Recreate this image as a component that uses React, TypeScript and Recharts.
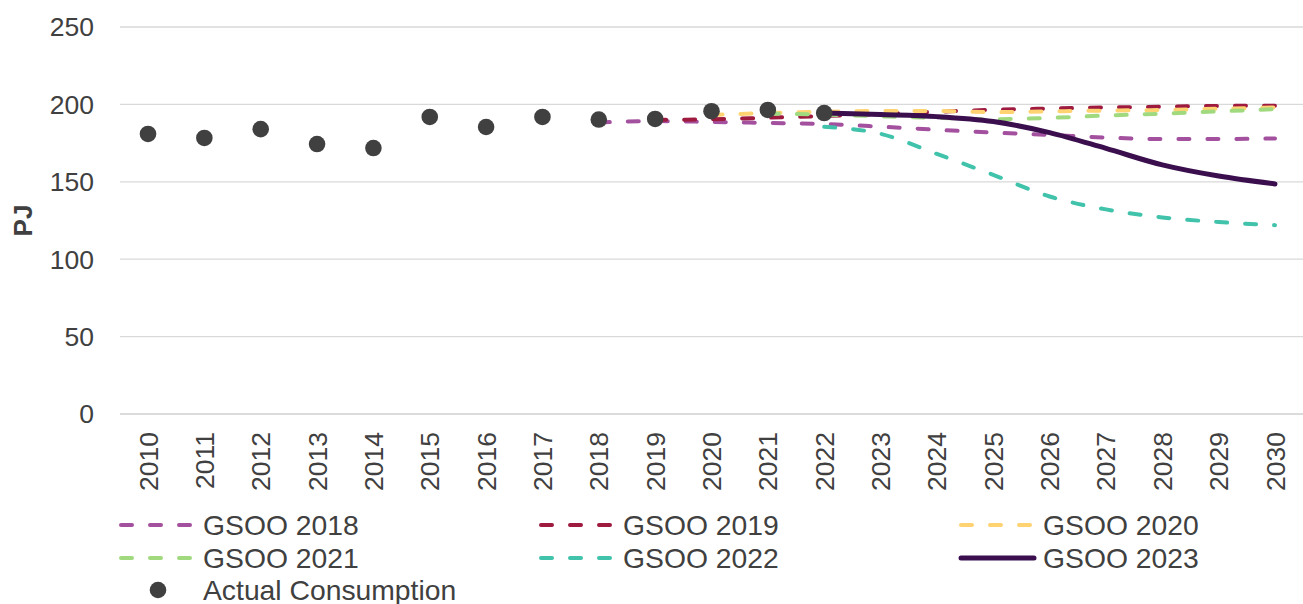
import { CartesianGrid, Line, LineChart, XAxis, YAxis } from "recharts";

const years = [
  "2010", "2011", "2012", "2013", "2014", "2015", "2016", "2017", "2018", "2019", "2020",
  "2021", "2022", "2023", "2024", "2025", "2026", "2027", "2028", "2029", "2030",
];

// values by year, null where the series has no point
const actual = [180.9, 178.3, 184, 174.4, 171.8, 191.9, 185.4, 191.9, 190.2, 190.6, 195.6, 196.4, 194.4];
const gsoo2018 = [188.3, 189.2, 188.7, 188, 187.3, 185.6, 183.6, 181.8, 180.3, 178.6, 177.6, 177.6, 178];
const gsoo2019 = [190, 190.4, 191.4, 192.5, 193.8, 195.3, 196.5, 197.3, 198, 198.5, 199, 199.2];
const gsoo2020 = [193.2, 194.4, 195.2, 195.8, 195.8, 195, 195.5, 196, 196.4, 197.2, 198];
const gsoo2021 = [194, 193.4, 192.3, 191.3, 190.4, 191.3, 192.8, 194, 195.5, 197];
const gsoo2022 = [185.5, 181, 168, 154.5, 140.5, 132.2, 127, 124, 122];
const gsoo2023 = [194.4, 193.4, 192.1, 188.9, 181.8, 171.6, 160.9, 153.7, 148.6];

const yTicks = [0, 50, 100, 150, 200, 250];

const FONT = '"Liberation Sans", Arial, sans-serif';
const TEXT = "#404040";

const series = [
  { key: "GSOO 2018", start: "2018", values: gsoo2018, color: "#A3519F", dashed: true },
  { key: "GSOO 2019", start: "2019", values: gsoo2019, color: "#9E1A3F", dashed: true },
  { key: "GSOO 2020", start: "2020", values: gsoo2020, color: "#FFD371", dashed: true },
  { key: "GSOO 2021", start: "2021", values: gsoo2021, color: "#A1DA7E", dashed: true },
  { key: "GSOO 2022", start: "2022", values: gsoo2022, color: "#40C2AB", dashed: true },
  { key: "GSOO 2023", start: "2022", values: gsoo2023, color: "#3B0F4E", dashed: false },
];

const data = years.map((y, i) => {
  const row: Record<string, string | number | null> = { year: y, actual: actual[i] ?? null };
  series.forEach((s) => {
    const off = years.indexOf(s.start);
    row[s.key] = i >= off ? s.values[i - off] ?? null : null;
  });
  return row;
});

function YearTick({ x, y, payload }: any) {
  return (
    <text
      x={x}
      y={y}
      transform={`rotate(-90, ${x}, ${y})`}
      textAnchor="end"
      dy="0.36em"
      fill={TEXT}
      fontSize={26.5}
      fontFamily={FONT}
    >
      {payload.value}
    </text>
  );
}

function LegendItem({ s }: { s: (typeof series)[number] }) {
  return (
    <div style={{ display: "flex", alignItems: "center", height: 32.5 }}>
      <svg width={85} height={10}>
        <line
          x1={3}
          x2={76}
          y1={5}
          y2={5}
          stroke={s.color}
          strokeWidth={s.dashed ? 4 : 5}
          strokeLinecap="round"
          strokeDasharray={s.dashed ? "11 18" : undefined}
        />
      </svg>
      <span>{s.key}</span>
    </div>
  );
}

export default function App() {
  return (
    <div style={{ position: "absolute", left: 0, top: 0, width: 1303, height: 604, background: "#fff" }}>
      <LineChart width={1303} height={604} data={data} margin={{ top: 27, right: 0, left: 0, bottom: 104 }}>
        <CartesianGrid vertical={false} stroke="#d9d9d9" strokeWidth={1.3} />
        <XAxis
          dataKey="year"
          interval={0}
          height={86}
          padding={{ left: 28, right: 28 }}
          axisLine={{ stroke: "#d9d9d9", strokeWidth: 1.3 }}
          tickLine={false}
          tickSize={0}
          tickMargin={18}
          tick={<YearTick />}
        />
        <YAxis
          width={120}
          domain={[0, 250]}
          ticks={yTicks}
          axisLine={false}
          tickLine={false}
          tickSize={0}
          tickMargin={26}
          tick={{ fill: TEXT, fontSize: 26.5, fontFamily: FONT }}
          label={{
            content: ({ viewBox }: any) => (
              <text
                x={viewBox.x + 23}
                y={viewBox.y + viewBox.height / 2}
                transform={`rotate(-90, ${viewBox.x + 23}, ${viewBox.y + viewBox.height / 2})`}
                textAnchor="middle"
                dy="0.36em"
                fill={TEXT}
                fontSize={26}
                fontWeight="bold"
                fontFamily={FONT}
              >
                PJ
              </text>
            ),
          }}
        />
        {series.map((s) => (
          <Line
            key={s.key}
            dataKey={s.key}
            type="monotone"
            stroke={s.color}
            strokeWidth={s.dashed ? 4 : 5}
            strokeLinecap="round"
            strokeDasharray={s.dashed ? "11 18" : undefined}
            dot={false}
            activeDot={false}
            connectNulls={false}
            isAnimationActive={false}
          />
        ))}
        <Line
          dataKey="actual"
          stroke="none"
          dot={{ r: 8.3, fill: "#404040", stroke: "none" }}
          activeDot={false}
          isAnimationActive={false}
        />
      </LineChart>
      <div
        style={{
          position: "absolute",
          left: 118,
          top: 509,
          width: 1185,
          display: "grid",
          gridTemplateColumns: "420px 420px 345px",
          fontFamily: FONT,
          fontSize: 28.3,
          color: TEXT,
          lineHeight: "28px",
        }}
      >
        {series.map((s) => (
          <LegendItem key={s.key} s={s} />
        ))}
        <div style={{ display: "flex", alignItems: "center", height: 32.5 }}>
          <svg width={85} height={20}>
            <circle cx={40} cy={10} r={8.3} fill="#404040" />
          </svg>
          <span>Actual Consumption</span>
        </div>
      </div>
    </div>
  );
}
